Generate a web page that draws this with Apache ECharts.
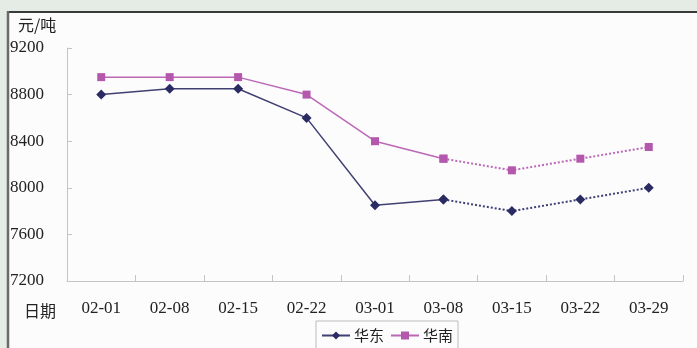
<!DOCTYPE html>
<html>
<head>
<meta charset="utf-8">
<script src="https://cdn.jsdelivr.net/npm/echarts@6/dist/echarts.min.js"></script>
<style>
  html, body { margin: 0; padding: 0; background: #e5ebe5; }
  #chart { width: 697px; height: 348px; }
</style>
</head>
<body>
<div id="chart"></div>
<script>
// Weekly prices (元/吨) for two regions
const categories = ['02-01', '02-08', '02-15', '02-22', '03-01', '03-08', '03-15', '03-22', '03-29'];
const eastPrices = [8800, 8850, 8850, 8600, 7850, 7900, 7800, 7900, 8000];   // 华东
const southPrices = [8950, 8950, 8950, 8800, 8400, 8250, 8150, 8250, 8350]; // 华南
const yTicks = { min: 7200, max: 9200, step: 400 };
// index from which values are shown as forecast (dotted)
const forecastFrom = 5;

const actual = arr => arr.map((v, i) => (i <= forecastFrom ? v : null));
const forecast = arr => arr.map((v, i) => (i >= forecastFrom ? v : null));

const EAST = '#2b2b63';
const SOUTH = '#b458ae';
const serif = '"Liberation Serif", "DejaVu Serif", serif';
const cjk = '"Noto Sans CJK SC", sans-serif';

const chart = echarts.init(document.getElementById('chart'));

function lineSeries(name, data, color, symbol, size, dotted) {
  return {
    name: name,
    type: 'line',
    data: data,
    symbol: symbol,
    symbolSize: size,
    showSymbol: true,
    connectNulls: false,
    itemStyle: { color: color },
    lineStyle: { color: color, width: dotted ? 2 : 1.5, type: dotted ? 'dotted' : 'solid', opacity: 0.9 },
    emphasis: { disabled: true },
    z: dotted ? 2 : 3
  };
}

chart.setOption({
  animation: false,
  backgroundColor: 'transparent',
  graphic: [
    { type: 'rect', shape: { x: 8, y: 11, width: 689, height: 337 }, style: { fill: '#fcfcfd' }, z: -10 },
    { type: 'line', shape: { x1: 7, y1: 12, x2: 697, y2: 12 }, style: { stroke: '#3a3a3a', lineWidth: 2 }, z: -5 },
    { type: 'line', shape: { x1: 8, y1: 11, x2: 8, y2: 348 }, style: { stroke: '#6a6a6a', lineWidth: 2.5 }, z: -5 },
    { type: 'text', left: 18, top: 17, style: { text: '元/吨', font: '16px ' + cjk, fill: '#222' } },
    { type: 'text', left: 24, top: 303, style: { text: '日期', font: '16px ' + cjk, fill: '#222' } }
  ],
  grid: { left: 67, right: 14, top: 48, bottom: 67, containLabel: false },
  legend: {
    left: 316,
    top: 321,
    itemWidth: 28,
    itemHeight: 10,
    itemGap: 6,
    padding: [7, 5, 6, 5],
    borderColor: '#bcbcbc',
    borderWidth: 1,
    backgroundColor: '#fcfcfd',
    textStyle: { fontFamily: cjk, fontSize: 15, color: '#222', padding: [0, 0, 0, -1] },
    data: ['华东', '华南']
  },
  xAxis: {
    type: 'category',
    data: categories,
    boundaryGap: true,
    axisLine: { lineStyle: { color: '#c4c4c4', width: 1 } },
    axisTick: { show: true, inside: true, length: 6, lineStyle: { color: '#c4c4c4' } },
    axisLabel: { margin: 19, fontFamily: serif, fontSize: 17, color: '#222' },
    splitLine: { show: false }
  },
  yAxis: {
    type: 'value',
    min: yTicks.min,
    max: yTicks.max,
    interval: yTicks.step,
    axisLine: { show: true, lineStyle: { color: '#c4c4c4', width: 1 } },
    axisTick: { show: true, inside: true, length: 5, lineStyle: { color: '#c4c4c4' } },
    axisLabel: { margin: 23, fontFamily: serif, fontSize: 17, color: '#222', formatter: v => String(v) },
    splitLine: { show: false }
  },
  series: [
    lineSeries('华东', actual(eastPrices), EAST, 'diamond', 10, false),
    lineSeries('华东', forecast(eastPrices), EAST, 'diamond', 10, true),
    lineSeries('华南', actual(southPrices), SOUTH, 'rect', 8, false),
    lineSeries('华南', forecast(southPrices), SOUTH, 'rect', 8, true)
  ]
});
</script>
</body>
</html>
